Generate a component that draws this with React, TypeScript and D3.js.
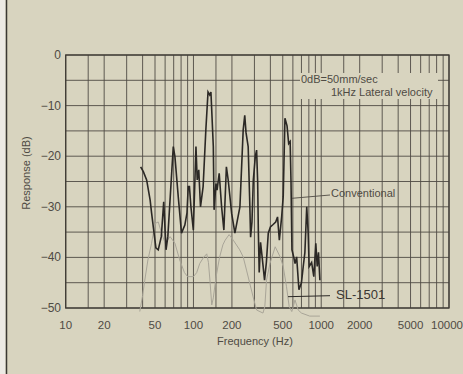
import React from "react";
import * as d3 from "d3";

// frequency ticks (Hz) and response ticks (dB)
const freqTicks = [10, 20, 50, 100, 200, 500, 1000, 2000, 5000, 10000];
const dbTicks = [0, -10, -20, -30, -40, -50];

// Conventional arm: [Hz, dB]
const conventional: [number, number][] = [
  [38.6, -22.1], [40.6, -23.1], [43, -24.7], [45.8, -28.7], [47, -31.2], [50.8, -38.1],
  [53, -38.5], [56, -35.9], [58.5, -29], [61, -38.5], [63, -35.9], [69.5, -18.1],
  [71.6, -20.1], [76, -28], [80.6, -35.2], [85.6, -33.6], [89, -31.2], [91, -26],
  [93, -26], [95.5, -30], [99.8, -34.6], [104.6, -18.1], [107, -24.7], [110, -22.7],
  [113.5, -30], [119, -26], [125, -14.8], [130, -7.3], [134, -7.9], [137, -7.3],
  [143, -18.1], [145, -30.6], [150, -25.4], [153, -26.7], [159, -23.4], [166, -30],
  [173, -34.6], [181, -22.1], [187, -24.7], [199, -31.3], [211, -35.2], [231, -30],
  [245, -14.8], [252, -11.9], [258, -15.4], [268, -18.1], [275, -28], [280, -36],
  [287, -33], [294, -24.7], [305, -20], [312, -18.8], [318, -25], [322, -35],
  [327, -43], [335, -37], [345, -40], [360, -44.5], [372, -41], [385, -35.2],
  [400, -34], [420, -33.5], [440, -33], [455, -32], [470, -36.6], [490, -32],
  [504, -28], [520, -12.5], [540, -14], [556, -17.5], [571, -17.1], [580, -25],
  [590, -38.5], [610, -40], [624, -41.2], [642, -39.9], [669, -46.4], [700, -45],
  [723, -41.8], [745, -39], [770, -30], [790, -35], [804, -41.8], [841, -41],
  [875, -43.8], [907, -37.2], [930, -41.8], [952, -39], [976, -44.5],
];

// SL-1501: [Hz, dB]
const sl1501: [number, number][] = [
  [38, -50.7], [40, -47.5], [41.6, -44.5], [44, -40.5], [47, -37.2], [50, -33.3],
  [53, -33], [56, -35], [60, -37.2], [65.6, -35.9], [71.6, -37.2], [78, -40.5],
  [85, -43], [90, -43.8], [100, -43.8], [106, -43], [112, -41.2], [120, -40],
  [127, -39.3], [131, -41], [135, -45], [139, -49.4], [143, -48], [150, -44],
  [160, -40], [170, -37.5], [177, -36.6], [190, -35.5], [205, -36.6], [230, -38.5],
  [245, -39.9], [260, -42.5], [293, -47.8], [312, -50.4], [350, -51], [362, -49.7],
  [373, -44.5], [397, -41.2], [436, -37.9], [477, -39.9], [504, -41.8], [535, -45.8],
  [561, -49.7], [588, -50.7], [605, -49.7], [623, -48.4], [660, -50.4], [700, -51],
  [813, -51.6], [976, -51.6],
];

const W = 463;
const H = 374;
const bg = "#d8d4bf";
const ink = "#4f4b44";
const font = "'Liberation Sans', Arial, sans-serif";

export default function App() {
  const x = d3.scaleLog().domain([10, 10000]).range([65.7, 449]);
  const y = d3.scaleLinear().domain([0, -50]).range([55, 308]);

  // grid lines at 1, 1.5, 2..9 of each decade
  const vGrid: number[] = [];
  [10, 100, 1000].forEach((dec) => {
    [1, 1.5, 2, 3, 4, 5, 6, 7, 8, 9].forEach((m) => vGrid.push(dec * m));
  });
  vGrid.push(10000);
  const hGrid = d3.range(0, -51, -5);

  const line = d3
    .line<[number, number]>()
    .x((d) => x(d[0]))
    .y((d) => y(d[1]))
    .curve(d3.curveLinear);

  // keep the last tick label inside the page
  const tickX = (f: number) => Math.min(x(f), W - 16);

  return (
    <svg
      width={W}
      height={H}
      style={{ position: "fixed", left: 0, top: 0, display: "block" }}
      fontFamily={font}
    >
      <rect x={0} y={0} width={W} height={H} fill={bg} />
      <rect x={0} y={0} width={5.5} height={H} fill="#eceae4" />
      <line x1={6.5} x2={6.5} y1={0} y2={H} stroke="#3a3833" strokeWidth={1.5} />

      {/* grid */}
      <g stroke={ink} strokeWidth={0.9}>
        {vGrid.map((f) => (
          <line key={"v" + f} x1={x(f)} x2={x(f)} y1={y(0)} y2={y(-50)} />
        ))}
        {hGrid.map((v) => (
          <line key={"h" + v} x1={x(10)} x2={x(10000)} y1={y(v)} y2={y(v)} />
        ))}
      </g>
      <rect
        x={x(10)}
        y={y(0)}
        width={x(10000) - x(10)}
        height={y(-50) - y(0)}
        fill="none"
        stroke="#403c36"
        strokeWidth={1.3}
      />

      {/* note box */}
      <rect x={300} y={73} width={138} height={26} fill={bg} />
      <text x={301} y={83} fontSize={11} fill={ink}>
        0dB=50mm/sec
      </text>
      <text x={331} y={96} fontSize={11} fill={ink}>
        1kHz Lateral velocity
      </text>

      {/* curves */}
      <path d={line(sl1501) || ""} fill="none" stroke="#a9a598" strokeWidth={1} />
      <path d={line(conventional) || ""} fill="none" stroke="#2b2825" strokeWidth={1.6} />

      {/* labels */}
      <line x1={292} y1={198.3} x2={330} y2={195} stroke={ink} strokeWidth={0.9} />
      <text x={331} y={197} fontSize={11} fill={ink}>
        Conventional
      </text>
      <line x1={288} y1={296.7} x2={330} y2={295.7} stroke="#2b2825" strokeWidth={1} />
      <text x={336} y={299} fontSize={13} fill="#3a3733">
        SL-1501
      </text>

      {/* y ticks */}
      {dbTicks.map((v) => (
        <text
          key={"yt" + v}
          x={61}
          y={y(v) + 4}
          fontSize={12}
          textAnchor="end"
          fill={ink}
        >
          {v === 0 ? "0" : "\u2212" + Math.abs(v)}
        </text>
      ))}
      {/* x ticks */}
      {freqTicks.map((f) => (
        <text
          key={"xt" + f}
          x={tickX(f)}
          y={328.5}
          fontSize={11.5}
          textAnchor="middle"
          fill={ink}
        >
          {f}
        </text>
      ))}
      <text x={255} y={345} fontSize={11} textAnchor="middle" fill={ink}>
        Frequency (Hz)
      </text>
      <text
        transform="translate(30,173) rotate(-90)"
        fontSize={11}
        textAnchor="middle"
        fill={ink}
      >
        Response (dB)
      </text>
    </svg>
  );
}
